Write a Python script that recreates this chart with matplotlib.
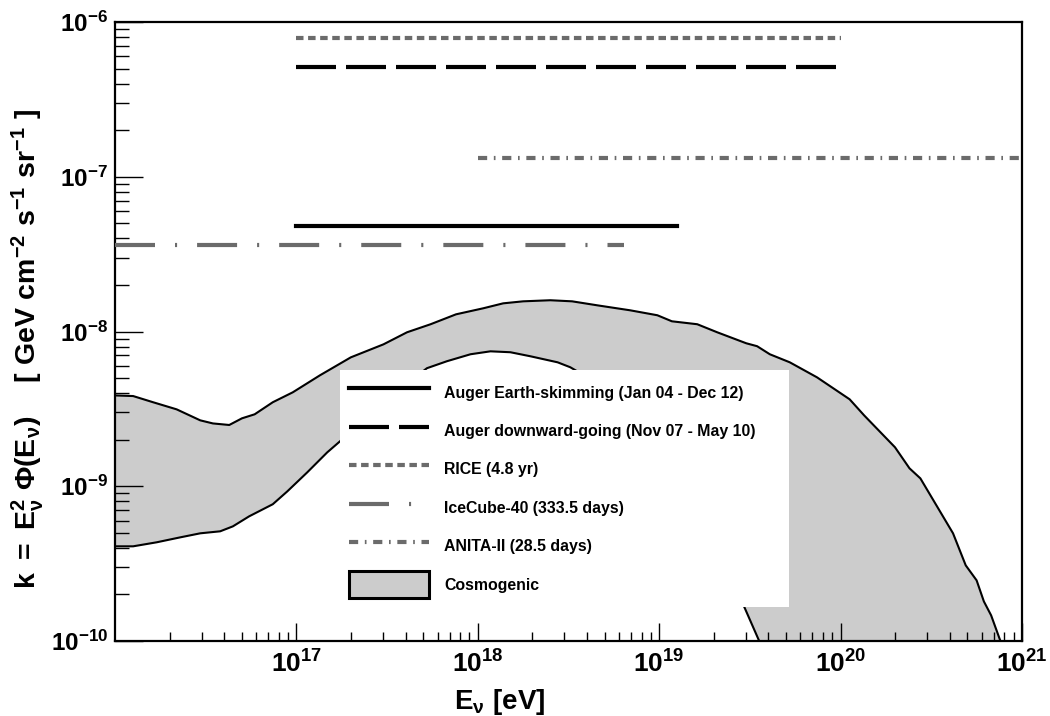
import numpy as np
import matplotlib
matplotlib.use("Agg")
import matplotlib.pyplot as plt
from matplotlib.patches import Patch
from matplotlib.ticker import FixedLocator, LogLocator, NullFormatter

plt.rcParams['font.family'] = ['Liberation Sans', 'DejaVu Sans']
plt.rcParams['font.weight'] = 'bold'
plt.rcParams['mathtext.fontset'] = 'custom'
plt.rcParams['mathtext.rm'] = 'Liberation Sans:bold'
plt.rcParams['mathtext.bf'] = 'Liberation Sans:bold'
plt.rcParams['mathtext.it'] = 'Liberation Sans:bold'
plt.rcParams['mathtext.default'] = 'bf'

# flux limits (horizontal lines): E range [eV] and k [GeV cm^-2 s^-1 sr^-1]
limit_labels = ["Auger Earth-skimming (Jan 04 - Dec 12)",
                "Auger downward-going (Nov 07 - May 10)",
                "RICE (4.8 yr)",
                "IceCube-40 (333.5 days)",
                "ANITA-II (28.5 days)"]
limit_emin = [1e17, 1e17, 1e17, 1e16, 1e18]
limit_emax = [1.25e19, 1e20, 1e20, 6.4e18, 1e21]
limit_k = [4.8e-8, 5.1e-7, 7.9e-7, 3.6e-8, 1.32e-7]

# cosmogenic band, log10(E) and log10(k)
upper_loge = [16.00, 16.10, 16.21, 16.34, 16.47, 16.54, 16.63, 16.70, 16.77, 16.87,
              16.98, 17.13, 17.30, 17.48, 17.61, 17.74, 17.88, 18.03, 18.14, 18.25,
              18.40, 18.52, 18.66, 18.84, 18.99, 19.07, 19.21, 19.32, 19.48, 19.54,
              19.61, 19.72, 19.87, 20.05, 20.13, 20.30, 20.38, 20.44, 20.62, 20.69,
              20.75, 20.79, 20.83, 20.88, 20.89, 20.95]
upper_logk = [-8.413, -8.417, -8.457, -8.503, -8.574, -8.594, -8.604, -8.561, -8.535, -8.457,
              -8.393, -8.283, -8.167, -8.083, -8.005, -7.953, -7.889, -7.850, -7.818, -7.805,
              -7.798, -7.805, -7.831, -7.863, -7.895, -7.934, -7.953, -8.005, -8.076, -8.095,
              -8.147, -8.199, -8.296, -8.438, -8.542, -8.748, -8.884, -8.949, -9.304, -9.511,
              -9.608, -9.744, -9.834, -9.996, -10.04, -10.45]
lower_loge = [16.00, 16.10, 16.23, 16.36, 16.47, 16.58, 16.65, 16.74, 16.87, 16.95,
              17.06, 17.17, 17.24, 17.46, 17.72, 17.83, 17.96, 18.07, 18.18, 18.29,
              18.44, 18.51, 18.67, 18.95, 19.22, 19.47, 19.55, 19.61]
lower_logk = [-9.388, -9.388, -9.362, -9.330, -9.304, -9.291, -9.259, -9.194, -9.116, -9.033,
              -8.910, -8.781, -8.710, -8.470, -8.237, -8.192, -8.147, -8.128, -8.134, -8.160,
              -8.199, -8.231, -8.341, -8.632, -9.084, -9.782, -9.996, -10.21]

x_ticks = [1e17, 1e18, 1e19, 1e20, 1e21]
x_ticklabels = [r'$10^{17}$', r'$10^{18}$', r'$10^{19}$', r'$10^{20}$', r'$10^{21}$']
y_ticks = [1e-10, 1e-9, 1e-8, 1e-7, 1e-6]
y_ticklabels = [r'$10^{-10}$', r'$10^{-9}$', r'$10^{-8}$', r'$10^{-7}$', r'$10^{-6}$']

gray = '#6b6b6b'
lw = 3.0
styles = [dict(color='black', ls='-'),
          dict(color='black', dashes=(9.6, 2.4)),
          dict(color=gray, dashes=(1.8, 1.1)),
          dict(color=gray, dashes=(9.6, 4.8, 0.5, 4.8)),
          dict(color=gray, dashes=(2.2, 1.6, 0.4, 1.6))]

fig = plt.figure(figsize=(10.5, 7.16), dpi=100)
ax = fig.add_axes([0.1095, 0.1047, 0.8638, 0.8646])

ue = 10 ** np.array(upper_loge)
uk = 10 ** np.array(upper_logk)
le = 10 ** np.array(lower_loge)
lk = 10 ** np.array(lower_logk)
ax.fill(np.concatenate([ue, le[::-1]]), np.concatenate([uk, lk[::-1]]),
        color='#cccccc', lw=0, zorder=1)
ax.plot(ue, uk, color='black', lw=1.5, zorder=2)
ax.plot(le, lk, color='black', lw=1.5, zorder=2)

handles = []
for lab, e0, e1, k, st in zip(limit_labels, limit_emin, limit_emax, limit_k, styles):
    h, = ax.plot([e0, e1], [k, k], lw=lw, label=lab, zorder=3, **st)
    handles.append(h)
handles.append(Patch(facecolor='#cccccc', edgecolor='black', linewidth=2.2))
labels = limit_labels + ['Cosmogenic']

ax.set_xscale('log')
ax.set_yscale('log')
ax.set_xlim(1e16, 1e21)
ax.set_ylim(1e-10, 1e-6)

ax.xaxis.set_major_locator(FixedLocator(x_ticks))
ax.set_xticklabels(x_ticklabels)
ax.yaxis.set_major_locator(FixedLocator(y_ticks))
ax.set_yticklabels(y_ticklabels)
ax.xaxis.set_minor_locator(LogLocator(base=10, subs=range(2, 10), numticks=20))
ax.yaxis.set_minor_locator(LogLocator(base=10, subs=range(2, 10), numticks=20))
ax.xaxis.set_minor_formatter(NullFormatter())
ax.yaxis.set_minor_formatter(NullFormatter())

ax.tick_params(which='both', direction='in', top=False, right=False, width=1.0)
ax.tick_params(axis='y', which='major', length=20, labelsize=17.5, pad=5)
ax.tick_params(axis='y', which='minor', length=10)
ax.tick_params(axis='x', which='major', length=13, labelsize=19, pad=7)
ax.tick_params(axis='x', which='minor', length=6.5)
for sp in ax.spines.values():
    sp.set_linewidth(1.6)

ax.set_xlabel(r'$E_{\nu}\ [eV]$', fontsize=20)
ax.xaxis.set_label_coords(0.424, -0.074)
ax.set_ylabel(r'$k\ =\ E_{\nu}^{2}\ \Phi(E_{\nu})\quad\ [\ GeV\ cm^{-2}\ s^{-1}\ sr^{-1}\ ]$',
              fontsize=20.5, va='center')
ax.yaxis.set_label_coords(-0.096, 0.472)

leg = ax.legend(handles, labels, loc='upper left',
                bbox_to_anchor=(0.248, 0.053, 0.495, 0.385), mode='expand',
                borderaxespad=0, frameon=True, fancybox=False, framealpha=1,
                facecolor='white', edgecolor='white',
                prop={'weight': 'bold', 'size': 11.4},
                handlelength=5.0, handleheight=2.2, handletextpad=1.0,
                labelspacing=0.75, borderpad=0.6)
leg.get_frame().set_linewidth(0)

fig.savefig('out.png', dpi=100)
